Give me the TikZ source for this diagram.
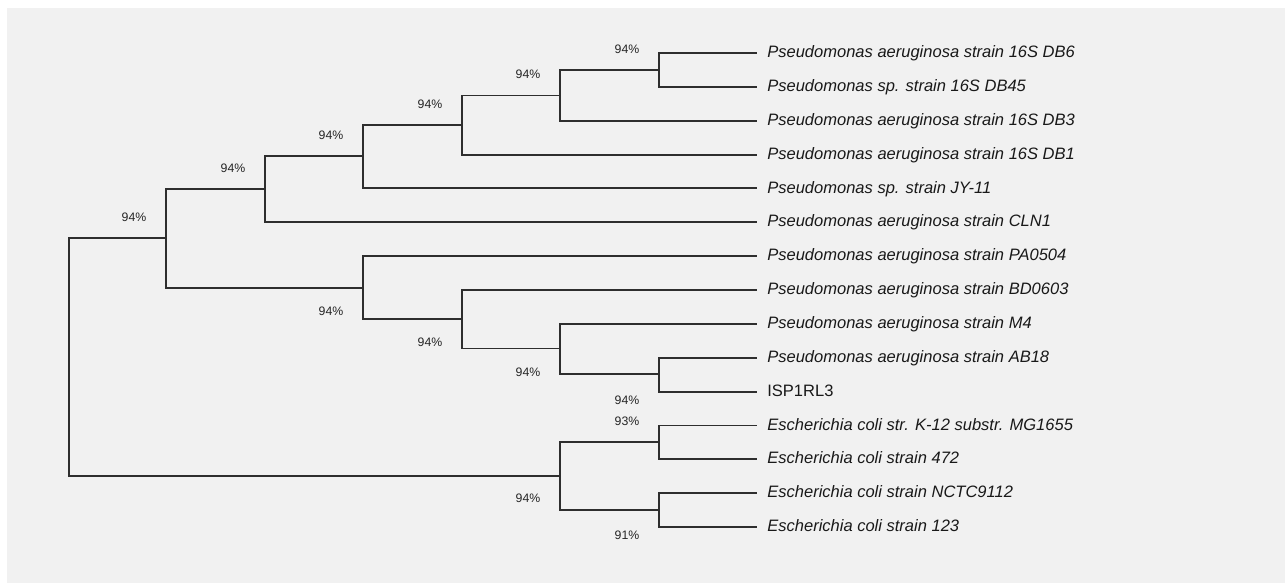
\documentclass[tikz,border=0pt]{standalone}
\usepackage{fontspec}
\setmainfont{Liberation Sans}
\usetikzlibrary{calc}
\definecolor{panelgrey}{HTML}{F1F1F1}
\definecolor{branchgrey}{HTML}{2E2E2E}

\begin{document}
\begin{tikzpicture}[x=0.02cm,y=-0.02cm,
  br/.style={draw=branchgrey,line width=1.1pt},
  tx/.style={anchor=mid west,inner sep=0pt,font=\fontsize{9.4}{11}\selectfont\itshape,text=black!90},
  bs/.style={font=\fontsize{7}{8}\selectfont,text=black!85,inner sep=0pt}
]
\useasboundingbox (0,0) rectangle (1285,583);
\fill[white] (0,0) rectangle (1285,583);
\fill[panelgrey] (7,8) rectangle (1285,583);

% tips and names
\foreach \lab [count=\k] in {
  Pseudomonas aeruginosa strain 16S DB6,
  Pseudomonas sp. strain 16S DB45,
  Pseudomonas aeruginosa strain 16S DB3,
  Pseudomonas aeruginosa strain 16S DB1,
  Pseudomonas sp. strain JY-11,
  Pseudomonas aeruginosa strain CLN1,
  Pseudomonas aeruginosa strain PA0504,
  Pseudomonas aeruginosa strain BD0603,
  Pseudomonas aeruginosa strain M4,
  Pseudomonas aeruginosa strain AB18,
  {\upshape ISP1RL3},
  Escherichia coli str. K-12 substr. MG1655,
  Escherichia coli strain 472,
  Escherichia coli strain NCTC9112,
  Escherichia coli strain 123}
{
  \coordinate (t\k) at (757,{53+33.86*(\k-1)});
  \node[tx] (l\k) at (767,{53+33.86*(\k-1)}) {\lab};
}

% inner nodes
\coordinate (R)  at (69,357);
\coordinate (P)  at (166,238);
\coordinate (A)  at (265,189);
\coordinate (A1) at (363,156);
\coordinate (A2) at (462,125);
\coordinate (A3) at (560,95.5);
\coordinate (A4) at (659,70);
\coordinate (B)  at (363,288);
\coordinate (B1) at (462,319);
\coordinate (B2) at (560,348.5);
\coordinate (B3) at (659,374);
\coordinate (E)  at (560,476);
\coordinate (E1) at (659,442);
\coordinate (E2) at (659,510);

% branches
\draw[br] (R) |- (P) (R) |- (E);
\draw[br] (P) |- (A) (P) |- (B);
\draw[br] (A) |- (A1) (A) |- (t6);
\draw[br] (A1) |- (A2) (A1) |- (t5);
\draw[br] (A2) |- (A3) (A2) |- (t4);
\draw[br] (A3) |- (A4) (A3) |- (t3);
\draw[br] (A4) |- (t1) (A4) |- (t2);
\draw[br] (B) |- (t7) (B) |- (B1);
\draw[br] (B1) |- (t8) (B1) |- (B2);
\draw[br] (B2) |- (t9) (B2) |- (B3);
\draw[br] (B3) |- (t10) (B3) |- (t11);
\draw[br] (E) |- (E1) (E) |- (E2);
\draw[br] (E1) |- (t12) (E1) |- (t13);
\draw[br] (E2) |- (t14) (E2) |- (t15);

% bootstrap values
\foreach \c/\dy/\v in {P/-21/94,A/-21/94,A1/-21/94,A2/-21/94,A3/-21/94,A4/-21/94,
  B/23/94,B1/23/94,B2/24/94,B3/26/94,E/22/94,E1/-21/93,E2/25/91}
  \node[bs] (s\c) at ($(\c)+(-32,\dy)$) {\v\%};
\end{tikzpicture}
\end{document}
